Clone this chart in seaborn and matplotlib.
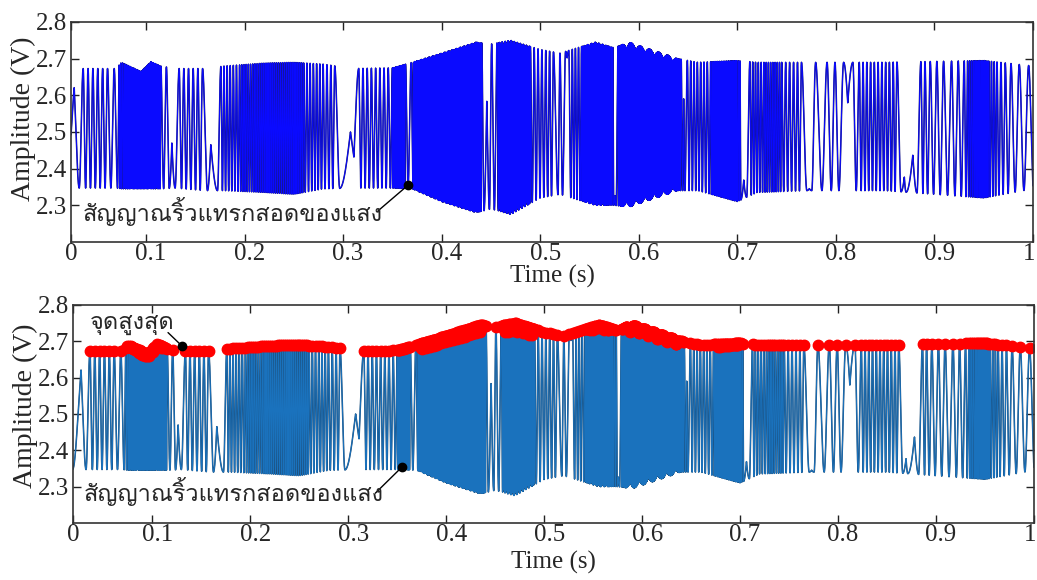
#plot.py

import numpy as np
import matplotlib
matplotlib.use("Agg")
import matplotlib.pyplot as plt
import matplotlib.transforms as mtransforms
from matplotlib import font_manager
from matplotlib.ft2font import FT2Font
import seaborn as sns

# fringe phase: knot times (s) and phase in fringes
knot_t = [0.0190, 0.0272, 0.0323, 0.0363, 0.0610, 0.0712, 0.0728, 0.0780, 0.0850, 0.1040,
          0.1110, 0.1151, 0.1236, 0.1263, 0.1296, 0.1337, 0.1574, 0.1624, 0.1658, 0.1726,
          0.1760, 0.1950, 0.2150, 0.2600, 0.2797, 0.2915, 0.2966, 0.3075, 0.3110, 0.3159,
          0.3501, 0.3625, 0.3633, 0.3659, 0.3690, 0.3710, 0.3740, 0.4350, 0.4400, 0.4406,
          0.4430, 0.4458, 0.4485, 0.4507, 0.4535, 0.4562, 0.4576, 0.4600, 0.4890, 0.4900,
          0.5134, 0.5180, 0.5200, 0.5226, 0.5257, 0.5273, 0.5290, 0.5310, 0.5420, 0.5460,
          0.5660, 0.5700, 0.5745, 0.5757, 0.5770, 0.5790, 0.5820, 0.6380, 0.6430, 0.6445,
          0.6455, 0.6468, 0.6493, 0.6729, 0.6760, 0.6990, 0.7035, 0.7065, 0.7095, 0.7127,
          0.7270, 0.7450, 0.7650, 0.7705, 0.7730, 0.7755, 0.7794, 0.7858, 0.7910, 0.7953,
          0.7990, 0.8030, 0.8078, 0.8120, 0.8172, 0.8206, 0.8237, 0.8619, 0.8660, 0.8694,
          0.8712, 0.8780, 0.8822, 0.8862, 0.8903, 0.8957, 0.9024, 0.9092, 0.9173, 0.9241,
          0.9302, 0.9336, 0.9400, 0.9550, 0.9634, 0.9674, 0.9718, 0.9776, 0.9860, 0.9955,
          1.0000]
knot_phase = [0.48, 0.13, 0.5, 1.0, 6.0, 7.5, 8.0, 11.0, 25.0, 75.0,
              89.0, 92.0, 93.5, 93.71, 93.5, 93.0, 88.0, 87.5, 87.29, 87.5,
              88.0, 94.0, 103.0, 126.0, 132.0, 135.0, 135.5, 135.74, 135.67, 136.0,
              144.0, 156.5, 157.0, 157.5, 158.0, 158.5, 163.0, 363.0, 367.5, 368.0,
              368.5, 368.8, 368.5, 368.0, 367.5, 367.0, 366.5, 358.0, 258.0, 255.0,
              249.0, 248.5, 248.0, 247.5, 247.0, 246.93, 247.0, 247.5, 251.0, 256.0,
              300.0, 304.0, 306.5, 306.58, 306.5, 306.0, 302.0, 130.0, 126.0, 125.5,
              125.18, 125.5, 126.0, 133.0, 135.0, 185.0, 187.5, 187.62, 187.5, 187.0,
              182.0, 174.0, 169.0, 168.5, 168.46, 168.5, 169.0, 169.5, 170.0, 170.5,
              171.0, 171.5, 172.0, 172.19, 172.0, 171.5, 171.0, 161.0, 160.5, 160.39,
              160.5, 160.68, 160.5, 160.0, 159.0, 158.0, 157.0, 156.0, 155.0, 154.0,
              153.0, 152.0, 149.0, 139.0, 136.0, 135.0, 134.0, 133.0, 132.0, 131.0,
              130.55]

# upper / lower envelope of the fringes (V)
env_t = [0.019, 0.070, 0.075, 0.095, 0.105, 0.115, 0.130, 0.160, 0.180, 0.220,
         0.250, 0.280, 0.310, 0.350, 0.370, 0.400, 0.435, 0.450, 0.470, 0.500,
         0.520, 0.556, 0.575, 0.590, 0.640, 0.660, 0.700, 0.720, 0.770, 0.850,
         0.950, 1.000]
env_hi = [2.673, 2.673, 2.690, 2.665, 2.692, 2.680, 2.673, 2.673, 2.680, 2.688,
          2.690, 2.685, 2.673, 2.675, 2.690, 2.715, 2.745, 2.740, 2.750, 2.725,
          2.715, 2.745, 2.730, 2.745, 2.700, 2.690, 2.695, 2.690, 2.690, 2.690,
          2.695, 2.680]
env_lo = [2.347, 2.347, 2.345, 2.345, 2.345, 2.345, 2.347, 2.340, 2.340, 2.335,
          2.330, 2.345, 2.347, 2.347, 2.345, 2.310, 2.280, 2.290, 2.275, 2.320,
          2.330, 2.300, 2.300, 2.295, 2.340, 2.340, 2.310, 2.335, 2.340, 2.340,
          2.320, 2.345]

x_ticks = [0.1, 0.2, 0.3, 0.4, 0.5, 0.6, 0.7, 0.8, 0.9, 1.0]
x_tick_labels = ["0", "0.1", "0.2", "0.3", "0.4", "0.5", "0.6", "0.7", "0.8", "0.9", "1"]
y_ticks = [2.3, 2.4, 2.5, 2.6, 2.7, 2.8]

fringe_label = "สัญญาณริ้วแทรกสอดของแสง"
peak_label = "จุดสูงสุด"


def find_thai_family():
    # pick any installed font that actually has Thai glyphs
    for f in font_manager.fontManager.ttflist:
        try:
            if 0x0E2A in FT2Font(f.fname).get_charmap():
                return f.name
        except Exception:
            continue
    return None


sns.set_style("ticks")
plt.rcParams["font.family"] = ["Liberation Serif", "DejaVu Serif"]
plt.rcParams["xtick.direction"] = "in"
plt.rcParams["ytick.direction"] = "in"

thai = find_thai_family()
thai_fam = [thai, "Liberation Serif"] if thai else ["Liberation Serif", "DejaVu Sans"]

# reconstruct the sampled detector trace
t = np.linspace(0.019, 1.0, 24000)
phase = np.interp(t, knot_t, knot_phase)
hi = np.interp(t, env_t, env_hi)
lo = np.interp(t, env_t, env_lo)
amp = (hi + lo) / 2 + (hi - lo) / 2 * np.cos(2 * np.pi * phase)

# local maxima near the top = fringe peaks
is_pk = (amp[1:-1] > amp[:-2]) & (amp[1:-1] >= amp[2:]) & (amp[1:-1] > 2.64)
pk = np.where(is_pk)[0] + 1

fig = plt.figure(figsize=(10.37, 5.80), dpi=100)
ax1 = fig.add_axes([0.0685, 0.5828, 0.9277, 0.3793])
ax2 = fig.add_axes([0.0704, 0.0983, 0.9267, 0.3759])


def style_axis(ax, left, xlab_y, ylab_y):
    ax.set_xlim(left, 1.0)
    ax.set_ylim(2.2, 2.8)
    ax.set_xticks([left] + x_ticks)
    ax.set_xticklabels(x_tick_labels)
    ax.set_yticks(y_ticks)
    ax.set_yticklabels([f"{v:.1f}" for v in y_ticks])
    ax.tick_params(axis="both", which="both", direction="in", top=True, right=True,
                   length=6, width=1, labelsize=18, color="#222222")
    ax.tick_params(axis="x", pad=1)
    ax.tick_params(axis="y", pad=3)
    for sp in ax.spines.values():
        sp.set_visible(True)
        sp.set_linewidth(1.2)
        sp.set_color("#333333")
    shift = mtransforms.ScaledTranslation(0.05, 0, fig.dpi_scale_trans)
    for lab in ax.get_xticklabels()[1:-1]:
        lab.set_transform(lab.get_transform() + shift)
    back = mtransforms.ScaledTranslation(-0.04, 0, fig.dpi_scale_trans)
    last = ax.get_xticklabels()[-1]
    last.set_transform(last.get_transform() + back)
    ax.set_xlabel("Time (s)", fontsize=18)
    ax.set_ylabel("Amplitude (V)", fontsize=20)
    ax.xaxis.set_label_coords(0.5, xlab_y)
    ax.yaxis.set_label_coords(-0.036, ylab_y)


# top panel: raw fringe signal
sns.lineplot(x=t, y=amp, ax=ax1, color="#181870", linewidth=1.1, estimator=None, sort=False)
sns.lineplot(x=t, y=amp, ax=ax1, color="#0a0aff", linewidth=0.7, estimator=None, sort=False)
style_axis(ax1, 0.024, -0.105, 0.56)
ax1.text(0.036, 2.282, fringe_label, family=thai_fam, fontsize=17, ha="left", va="center")
ax1.plot([0.3355, 0.3659], [2.285, 2.355], color="black", lw=1)
ax1.plot([0.3659], [2.355], "o", color="black", ms=6)

# bottom panel: same signal with detected peaks
sns.lineplot(x=t, y=amp, ax=ax2, color="#1d4a72", linewidth=1.1, estimator=None, sort=False)
sns.lineplot(x=t, y=amp, ax=ax2, color="#1a72bd", linewidth=0.7, estimator=None, sort=False)
ax2.plot(t[pk], amp[pk], "o", color="#ff0000", ms=7.5, mec="#ff0000", ls="none")
style_axis(ax2, 0.019, -0.128, 0.54)
ax2.text(0.0296, 2.286, fringe_label, family=thai_fam, fontsize=17, ha="left", va="center")
ax2.plot([0.3276, 0.3548], [2.282, 2.354], color="black", lw=1)
ax2.plot([0.3548], [2.354], "o", color="black", ms=6)
ax2.text(0.0367, 2.749, peak_label, family=thai_fam, fontsize=17, ha="left", va="center")
ax2.plot([0.116, 0.1303], [2.724, 2.687], color="black", lw=1)
ax2.plot([0.1303], [2.687], "o", color="black", ms=6)

plt.savefig("out.png", dpi=100)
plt.close()
